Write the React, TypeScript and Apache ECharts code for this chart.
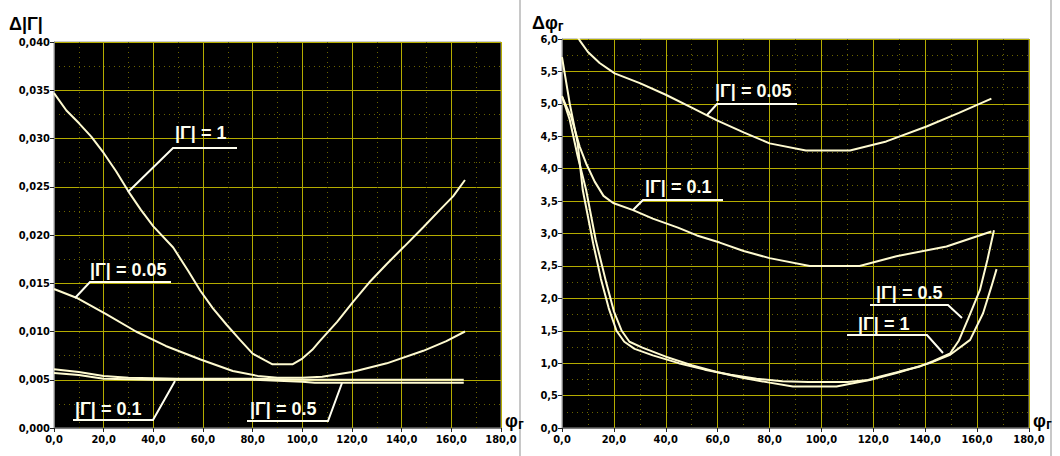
import React, { useEffect, useRef } from "react";
import * as echarts from "echarts";

// ---- data: left chart  Δ|Γ| vs φг ----
const xTicks = [0, 20, 40, 60, 80, 100, 120, 140, 160, 180];
const leftG1: [number, number][] = [[0,0.0347],[5,0.0329],[10,0.0316],[15,0.0302],[20,0.0285],[25,0.0266],[30,0.0245],[35,0.0226],[40,0.0209],[48,0.0187],[54,0.0163],[59,0.0142],[64,0.0124],[69.5,0.0107],[75,0.0091],[80,0.0077],[85,0.0070],[88,0.0066],[96,0.0066],[100,0.0072],[104,0.0081],[107,0.0090],[114,0.0110],[120.5,0.0131],[127,0.0151],[134,0.0170],[141,0.0188],[148.7,0.0208],[155,0.0225],[160.7,0.0240],[165.5,0.0257]];
const leftG005: [number, number][] = [[0,0.0144],[9,0.0135],[21,0.0118],[33,0.0100],[45,0.0085],[59,0.0071],[72,0.0059],[82,0.0054],[90,0.0052],[100,0.0052],[108,0.0053],[120,0.0058],[134,0.0067],[148.7,0.0080],[158,0.0090],[165.5,0.0100]];
const leftG01: [number, number][] = [[0,0.0061],[10,0.0058],[20,0.0054],[30,0.0052],[50,0.0051],[80,0.0051],[100,0.0050],[120,0.0050],[140,0.0050],[165,0.0050]];
const leftG05: [number, number][] = [[0,0.0057],[10,0.0055],[20,0.0051],[40,0.0050],[60,0.0050],[80,0.0050],[100,0.0048],[105,0.0047],[130,0.0047],[165,0.0047]];

// ---- data: right chart  Δφг vs φг ----
const rightG005: [number, number][] = [[2,6.3],[6.8,5.98],[10,5.8],[14.5,5.63],[20.3,5.47],[30,5.32],[40,5.14],[50,4.94],[59.5,4.75],[70,4.56],[80,4.39],[94,4.28],[111,4.28],[125,4.42],[140.5,4.65],[153,4.86],[165.5,5.08]];
const rightG01: [number, number][] = [[0,5.11],[3.5,4.8],[6.8,4.34],[9.3,4.08],[12.6,3.8],[16,3.58],[19.7,3.47],[27.4,3.36],[35,3.23],[44.7,3.09],[52,2.97],[60.8,2.86],[70,2.73],[80,2.62],[95.5,2.5],[114.7,2.5],[128.9,2.65],[148.2,2.8],[165.5,3.03]];
const rightG05: [number, number][] = [[0,5.72],[3,5.0],[6,4.4],[8,3.67],[12,2.85],[15,2.3],[18,1.85],[21,1.5],[24,1.33],[28,1.22],[35,1.12],[45,1.0],[55,0.9],[65,0.82],[75,0.76],[85,0.72],[95,0.71],[110,0.71],[118,0.74],[122.3,0.79],[130,0.87],[138,0.95],[143,1.03],[149.6,1.15],[153,1.35],[156.6,1.69],[161.1,2.13],[164,2.6],[166.5,3.05]];
const rightG1: [number, number][] = [[0,5.12],[3,4.75],[6,4.2],[9.3,3.67],[13,2.9],[17,2.25],[20,1.8],[23,1.5],[26,1.33],[31,1.24],[40,1.1],[50,0.97],[60,0.86],[70,0.77],[80,0.7],[89,0.64],[105.8,0.64],[118.6,0.74],[130,0.86],[141.7,1.0],[149.6,1.13],[157.3,1.36],[162.3,1.77],[165.5,2.18],[167.5,2.45]];

const labelsLeft = ["|Γ| = 1", "|Γ| = 0.05", "|Γ| = 0.1", "|Γ| = 0.5"];
const labelsRight = ["|Γ| = 0.05", "|Γ| = 0.1", "|Γ| = 0.5", "|Γ| = 1"];

const CURVE = "#fffbd0";
const MAJOR = "#b4ac00";
const MINOR = "#6a6400";
const FONT = "'DejaVu Sans Condensed', 'DejaVu Sans', sans-serif";

function xAxis(gridIndex: number) {
  return {
    type: "value", gridIndex, min: xTicks[0], max: xTicks[xTicks.length - 1], interval: 20,
    axisLine: { show: true, onZero: false, lineStyle: { color: "#808080", width: 1 } },
    axisTick: { show: true, length: 4, lineStyle: { color: "#222" } },
    axisLabel: { color: "#000", fontWeight: "bold", fontFamily: FONT, fontSize: 11, margin: 6,
      formatter: (v: number) => v.toFixed(1).replace(".", ",") },
    splitLine: { show: true, lineStyle: { color: MAJOR, width: 1 } },
    minorTick: { show: false, splitNumber: 2 },
    minorSplitLine: { show: true, lineStyle: { color: MINOR, width: 1, type: [1, 4] } },
  };
}
function yAxis(gridIndex: number, max: number, interval: number, digits: number) {
  return {
    type: "value", gridIndex, min: 0, max, interval,
    axisLine: { show: true, lineStyle: { color: "#808080", width: 1 } },
    axisTick: { show: true, length: 4, lineStyle: { color: "#222" } },
    axisLabel: { color: "#000", fontWeight: "bold", fontFamily: FONT, fontSize: 11, margin: 4,
      formatter: (v: number) => v.toFixed(digits).replace(".", ",") },
    splitLine: { show: true, lineStyle: { color: MAJOR, width: 1 } },
    minorTick: { show: false, splitNumber: 2 },
    minorSplitLine: { show: true, lineStyle: { color: MINOR, width: 1, type: [1, 4] } },
  };
}
function curve(data: [number, number][], idx: number) {
  return {
    type: "line", xAxisIndex: idx, yAxisIndex: idx, data, showSymbol: false, symbol: "none",
    smooth: false, clip: true,
    lineStyle: { color: CURVE, width: 2 }, silent: true,
  };
}
function label(text: string, x: number, y: number) {
  return { type: "text", x, y, z: 100, style: { text, fill: "#fffff0", font: "bold 18px 'Liberation Sans', Arial, sans-serif" } };
}
function leader(points: number[][]) {
  return { type: "polyline", z: 100, shape: { points }, style: { stroke: "#fffff0", lineWidth: 2, fill: "none" } };
}
function title(main: string, sub: string, x: number, y: number) {
  return {
    type: "text", x, y, z: 100,
    style: {
      text: sub ? `{a|${main}}{b|${sub}}` : `{a|${main}}`,
      rich: {
        a: { fill: "#000", font: "bold 18px 'Liberation Sans', Arial, sans-serif" },
        b: { fill: "#000", font: "bold 14px 'Liberation Sans', Arial, sans-serif", padding: [6, 0, 0, 0] },
      },
    },
  };
}

export default function App() {
  const ref = useRef<HTMLDivElement>(null);
  useEffect(() => {
    if (!ref.current) return;
    const chart = echarts.init(ref.current, undefined, { renderer: "svg" });
    chart.setOption({
      animation: false,
      backgroundColor: "#fff",
      grid: [
        { left: 54, top: 42, width: 447, height: 386, show: true, backgroundColor: "#000", borderColor: "#999", borderWidth: 1 },
        { left: 562, top: 39, width: 467, height: 389, show: true, backgroundColor: "#000", borderColor: "#999", borderWidth: 1 },
      ],
      xAxis: [xAxis(0), xAxis(1)],
      yAxis: [yAxis(0, 0.04, 0.005, 3), yAxis(1, 6, 0.5, 1)],
      series: [
        curve(leftG1, 0), curve(leftG005, 0), curve(leftG01, 0), curve(leftG05, 0),
        curve(rightG005, 1), curve(rightG01, 1), curve(rightG05, 1), curve(rightG1, 1),
      ],
      graphic: [
        { type: "line", shape: { x1: 520, y1: 0, x2: 520, y2: 456 }, style: { stroke: "#c8c8c8", lineWidth: 2 } },
        { type: "line", shape: { x1: 1051, y1: 0, x2: 1051, y2: 456 }, style: { stroke: "#c8c8c8", lineWidth: 2 } },
        title("Δ|Γ|", "", 9, 15),
        title("Δφ", "г", 532, 13),
        title("φ", "г", 505, 411),
        title("φ", "г", 1033, 411),
        // left annotations
        label(labelsLeft[0], 175, 124),
        leader([[237, 148], [173, 148], [128, 192]]),
        label(labelsLeft[1], 90, 261),
        leader([[171, 282], [90, 282], [75, 298]]),
        label(labelsLeft[2], 75, 400),
        leader([[73, 420], [153, 420], [175, 381]]),
        label(labelsLeft[3], 250, 400),
        leader([[247, 421], [328, 421], [342, 383]]),
        // right annotations
        label(labelsRight[0], 715, 82),
        leader([[797, 104], [717, 104], [707, 115]]),
        label(labelsRight[1], 645, 178),
        leader([[723, 200], [643, 200], [633, 210]]),
        label(labelsRight[2], 876, 284),
        leader([[870, 305], [948, 305], [962, 318]]),
        label(labelsRight[3], 858, 315),
        leader([[847, 335], [927, 335], [943, 353]]),
      ],
    });
    return () => chart.dispose();
  }, []);
  return <div ref={ref} style={{ position: "fixed", left: 0, top: 0, width: 1060, height: 456 }} />;
}
